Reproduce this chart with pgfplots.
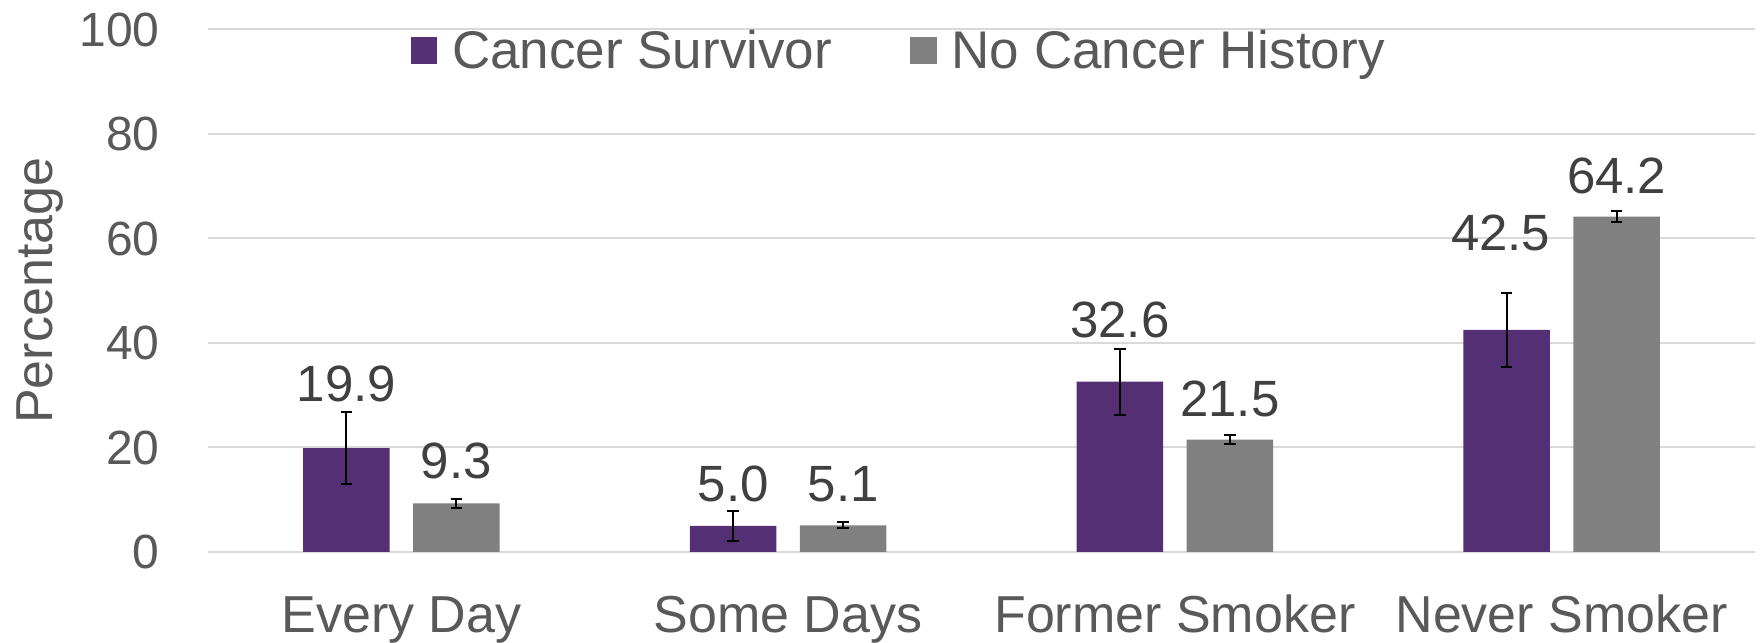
\documentclass[border=0pt]{standalone}
\usepackage{pgfplots}
\pgfplotsset{compat=1.18}
\usepackage{pgfplotstable}
\usepackage{fontspec}
\setmainfont{Liberation Sans}
\definecolor{cspurple}{RGB}{84,47,116}
\definecolor{nchgray}{RGB}{128,128,128}
\definecolor{ticktext}{RGB}{89,89,89}
\definecolor{labtext}{RGB}{64,64,64}
\definecolor{gridgray}{RGB}{217,217,217}

\pgfplotstableread{
x y err oy ox
0 19.9 6.9 23.5 0
1 5.0 2.8 12.0 0
2 32.6 6.3 22.3 0
3 42.5 7.0 39.8 -3
}\tabcs
\pgfplotstableread{
x y err oy ox
0 9.3 0.8 12.4 0
1 5.1 0.6 11.7 0
2 21.5 0.8 11.4 0
3 64.2 1.1 11.5 0
}\tabnch

\begin{document}
\begin{tikzpicture}
\begin{axis}[
  at={(0pt,0pt)}, anchor=south west,
  scale only axis, width=773.5pt, height=261.25pt,
  ymin=0, ymax=100, xmin=-0.5, xmax=3.5, enlargelimits=false,
  ytick={0,20,40,60,80,100},
  xtick={0,1,2,3},
  xticklabels={Every Day, Some Days, Former Smoker, Never Smoker},
  ymajorgrids, grid style={gridgray, line width=1pt},
  axis line style={draw=none}, major tick length=0pt,
  /pgf/number format/assume math mode=true,
  tick label style={font=\fontsize{24}{28}\selectfont, color=ticktext},
  yticklabel style={anchor=east, inner sep=0pt, xshift=-24pt},
  xticklabel style={anchor=base, inner sep=0pt, yshift=-40pt, font=\fontsize{26}{30}\selectfont},
  ylabel={Percentage},
  every axis y label/.style={at={(axis description cs:-0.1086,0.5)}, anchor=center, rotate=90, inner sep=0pt, font=\fontsize{26}{30}\selectfont, color=ticktext},
  ybar, bar width=43.3pt,
  legend style={draw=none, fill=none, at={(axis cs:0.0226,100)}, anchor=north west, inner sep=0pt,
    legend columns=2, font=\fontsize{26.5}{30}\selectfont, text=ticktext, nodes={inner sep=0pt},
    /tikz/every odd column/.append style={column sep=7.5pt},
    /tikz/every even column/.append style={column sep=39pt}},
  legend image code/.code={\fill[#1] (0pt,-6.7pt) rectangle (13.3pt,6.6pt);},
  nodes near coords={\pgfmathprintnumber[fixed,fixed zerofill,precision=1]{\pgfplotspointmeta}},
  every node near coord/.append style={anchor=base, inner sep=0pt, yshift=\oy, xshift=\ox, font=\fontsize{25.5}{30}\selectfont, color=labtext},
]
\addplot[fill=cspurple, draw=none, bar shift=-27.5pt,
  visualization depends on={\thisrow{oy} \as \oy},
  visualization depends on={\thisrow{ox} \as \ox},
  error bars/.cd, y dir=both, y explicit,
  error bar style={black, line width=1pt},
  error mark options={rotate=90, mark size=2.9pt, black, line width=1pt}]
  table[x=x, y=y, y error=err] {\tabcs};
\addlegendentry{Cancer Survivor}
\addplot[fill=nchgray, draw=none, bar shift=27.5pt,
  visualization depends on={\thisrow{oy} \as \oy},
  visualization depends on={\thisrow{ox} \as \ox},
  error bars/.cd, y dir=both, y explicit,
  error bar style={black, line width=1pt},
  error mark options={rotate=90, mark size=2.9pt, black, line width=1pt}]
  table[x=x, y=y, y error=err] {\tabnch};
\addlegendentry{No Cancer History}
\end{axis}
\pgfresetboundingbox
\useasboundingbox (-104pt,-45pt) rectangle (776pt,276pt);
\end{tikzpicture}
\end{document}
